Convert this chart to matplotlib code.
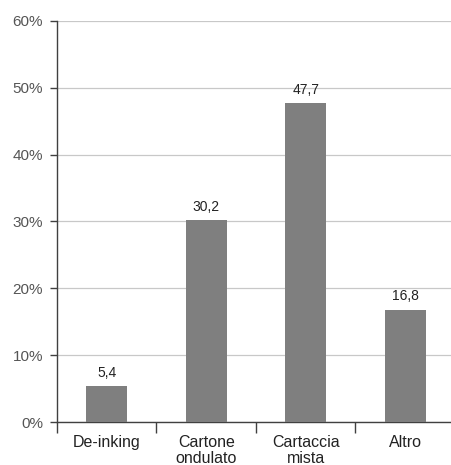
import matplotlib
matplotlib.use("Agg")
import matplotlib.pyplot as plt
from matplotlib.ticker import FuncFormatter

categories = ["De-inking", "Cartone\nondulato", "Cartaccia\nmista", "Altro"]
values = [5.4, 30.2, 47.7, 16.8]
value_labels = ["5,4", "30,2", "47,7", "16,8"]
yticks = [0, 10, 20, 30, 40, 50, 60]

plt.rcParams["font.family"] = ["Liberation Sans", "DejaVu Sans"]

fig = plt.figure(figsize=(4.51, 4.65), dpi=100)
ax = fig.add_axes([57 / 451, 43 / 465, 398 / 451, 401 / 465])

x = list(range(len(categories)))
ax.bar(x, values, width=0.41, color="#7f7f7f", zorder=3)
for xi, v, lab in zip(x, values, value_labels):
    ax.annotate(lab, (xi, v), xytext=(0, 4.5), textcoords="offset points",
                ha="center", va="bottom", fontsize=10, color="#222222")

ax.set_xlim(-0.5, 3.5)
ax.set_ylim(0, 60)
ax.set_yticks(yticks)
ax.yaxis.set_major_formatter(FuncFormatter(lambda v, p: f"{int(v)}%"))
ax.yaxis.grid(True, color="#c8c8c8", linewidth=0.9, zorder=0)

ax.set_xticks([-0.5, 0.5, 1.5, 2.5, 3.5])
ax.set_xticklabels([])
ax.set_xticks(x, minor=True)
ax.set_xticklabels(categories, minor=True, fontsize=11.5, color="#222222",
                   linespacing=1.05)
ax.tick_params(axis="x", which="major", direction="out", length=8, width=1, color="#404040")
ax.tick_params(axis="x", which="minor", length=0, pad=9.5)
ax.tick_params(axis="y", direction="out", length=5, width=1, color="#404040",
               labelsize=11, labelcolor="#555555", pad=5)

for s in ["top", "right"]:
    ax.spines[s].set_visible(False)
for s in ["left", "bottom"]:
    ax.spines[s].set_color("#404040")
    ax.spines[s].set_linewidth(1)

fig.savefig("out.png", dpi=100, facecolor="white")
